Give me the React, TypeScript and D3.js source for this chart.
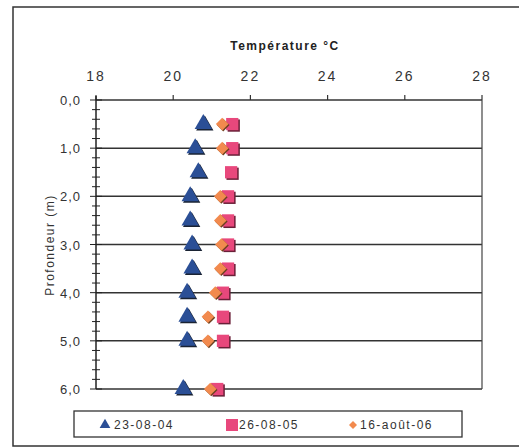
import React from 'react';
import * as d3 from 'd3';

const depths = [0.5, 1.0, 1.5, 2.0, 2.5, 3.0, 3.5, 4.0, 4.5, 5.0, 6.0];
const temps2004 = [20.78, 20.57, 20.65, 20.44, 20.44, 20.49, 20.49, 20.36, 20.36, 20.36, 20.26];
const temps2005 = [21.53, 21.53, 21.5, 21.42, 21.42, 21.42, 21.42, 21.29, 21.29, 21.29, 21.14];
const depths2006 = [0.5, 1.0, 2.0, 2.5, 3.0, 3.5, 4.0, 4.5, 5.0, 6.0];
const temps2006 = [21.27, 21.27, 21.22, 21.22, 21.25, 21.22, 21.09, 20.9, 20.9, 20.96];
const xTicks = [18, 20, 22, 24, 26, 28];
const yTicks = [0, 1, 2, 3, 4, 5, 6];
const seriesNames = ['23-08-04', '26-08-05', '16-août-06'];

const FONT = '"Liberation Sans", Arial, sans-serif';

export default function App() {
  const x = d3.scaleLinear().domain([18, 28]).range([96, 482]);
  const y = d3.scaleLinear().domain([0, 6]).range([100, 389]);
  const minor = d3.range(0, 6.001, 0.2);

  const tri = d3.symbol().type(d3.symbolTriangle).size(130)()!;
  const sq = d3.symbol().type(d3.symbolSquare).size(150)()!;
  const dia = d3.symbol().type(d3.symbolSquare).size(80)()!; // rotated 45° below

  const triColor = '#2b4f96';
  const sqColor = '#e8487c';
  const diaColor = '#f28a4e';

  const fmt = (v: number) => v.toFixed(1).replace('.', ',');

  return (
    <svg width={519} height={448} style={{ position: 'absolute', left: 0, top: 0 }}>
      <rect x={0} y={0} width={519} height={448} fill="#fff" />
      <rect x={13} y={7} width={520} height={439} fill="none" stroke="#333" strokeWidth={1.5} />

      {/* title */}
      <text x={285} y={50} textAnchor="middle" fontFamily={FONT} fontSize={12} fontWeight="bold" letterSpacing={1.5} fill="#222">
        Température °C
      </text>

      {/* top x ticks */}
      {xTicks.map(t => (
        <g key={t}>
          <text x={x(t)} y={81} textAnchor="middle" fontFamily={FONT} fontSize={14} letterSpacing={2} fill="#333">{t}</text>
          <line x1={x(t)} x2={x(t)} y1={95} y2={100} stroke="#333" strokeWidth={1.2} />
        </g>
      ))}

      {/* gridlines */}
      {yTicks.map(t => (
        <line key={t} x1={x(18)} x2={x(28)} y1={y(t)} y2={y(t)} stroke="#333" strokeWidth={1.5} />
      ))}
      <line x1={x(28)} x2={x(28)} y1={y(0)} y2={y(6)} stroke="#444" strokeWidth={1.2} />
      <line x1={x(18)} x2={x(18)} y1={y(0) - 4} y2={y(6)} stroke="#222" strokeWidth={1.5} />

      {/* y minor/major ticks */}
      {minor.map((t, i) => (
        <line key={i} x1={x(18) - (i % 5 === 0 ? 6 : 4)} x2={x(18) + (i % 5 === 0 ? 6 : 4)} y1={y(t)} y2={y(t)} stroke="#222" strokeWidth={1} />
      ))}
      {yTicks.map(t => (
        <text key={t} x={81} y={y(t) + 5} textAnchor="end" fontFamily={FONT} fontSize={13} letterSpacing={1} fill="#333">{fmt(t)}</text>
      ))}

      <text transform="translate(54,245) rotate(-90)" textAnchor="middle" fontFamily={FONT} fontSize={12} letterSpacing={1.5} fill="#333">
        Profondeur (m)
      </text>

      {/* series */}
      {depths.map((d, i) => (
        <g key={'t' + i} transform={`translate(${x(temps2004[i])},${y(d)})`}>
          <path d={tri} transform="translate(1.5,1.5)" fill="#1a2333" />
          <path d={tri} fill={triColor} />
        </g>
      ))}
      {depths.map((d, i) => (
        <g key={'s' + i} transform={`translate(${x(temps2005[i])},${y(d)})`}>
          <path d={sq} transform="translate(1.5,1.5)" fill="#6a2038" />
          <path d={sq} fill={sqColor} />
        </g>
      ))}
      {depths2006.map((d, i) => (
        <g key={'d' + i} transform={`translate(${x(temps2006[i])},${y(d)})`}>
          <path d={dia} transform="translate(1,1) rotate(45)" fill="#6b4020" />
          <path d={dia} transform="rotate(45)" fill={diaColor} />
        </g>
      ))}

      {/* legend */}
      <rect x={74} y={411} width={388} height={26} fill="#fff" stroke="#333" strokeWidth={1.3} />
      <path d={d3.symbol().type(d3.symbolTriangle).size(50)()!} transform="translate(105,425)" fill={triColor} />
      <text x={114} y={429} fontFamily={FONT} fontSize={12} letterSpacing={1.5} fill="#333">{seriesNames[0]}</text>
      <rect x={226} y={419} width={12} height={12} fill={sqColor} />
      <text x={239} y={429} fontFamily={FONT} fontSize={12} letterSpacing={1.5} fill="#333">{seriesNames[1]}</text>
      <path d={d3.symbol().type(d3.symbolSquare).size(32)()!} transform="translate(353,425) rotate(45)" fill={diaColor} />
      <text x={360} y={429} fontFamily={FONT} fontSize={12} letterSpacing={1.5} fill="#333">{seriesNames[2]}</text>
    </svg>
  );
}
